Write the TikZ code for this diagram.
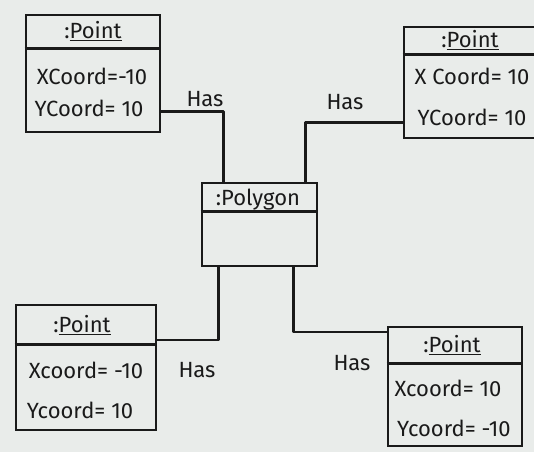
\documentclass[tikz,border=0pt]{standalone}
\usepackage{fontspec}
\setmainfont{Fira Sans}
\definecolor{paper}{HTML}{E9ECEA}
\definecolor{ink}{HTML}{1A1A1A}
\begin{document}
\begin{tikzpicture}[x=1pt,y=-1pt,
  obj/.style={draw=ink,line width=2.8pt,inner sep=0pt,anchor=center},
  lbl/.style={text=ink,font=\fontsize{22}{24}\selectfont,inner sep=0pt},
  link/.style={draw=ink,line width=2.8pt,line join=round}]
\fill[paper] (0,0) rectangle (534,452);
\useasboundingbox (0,0) rectangle (534,452);
\clip (0,0) rectangle (534,452);
% boxes
\node[obj,minimum width=134pt,minimum height=117pt] (tl) at (93,73.5) {};
\node[obj,minimum width=141pt,minimum height=111pt] (tr) at (474.5,82.5) {};
\node[obj,minimum width=115pt,minimum height=83pt] (poly) at (259.5,224.5) {};
\node[obj,minimum width=140pt,minimum height=125pt] (bl) at (86,367.5) {};
\node[obj,minimum width=134pt,minimum height=119pt] (br) at (455,386.5) {};
% separators
\draw[link] ([yshift=-35pt]tl.north west) -- ([yshift=-35pt]tl.north east);
\draw[link] ([yshift=-29pt]tr.north west) -- ([yshift=-29pt]tr.north east);
\draw[link] ([yshift=-30pt]poly.north west) -- ([yshift=-30pt]poly.north east);
\draw[link] ([yshift=-41pt]bl.north west) -- ([yshift=-41pt]bl.north east);
\draw[link] ([yshift=-38pt]br.north west) -- ([yshift=-38pt]br.north east);
% texts
\node[lbl] (tln) at (93,31) {:\underline{Point}};
\node[lbl] (tlx) at (92,76) {XCoord=-10};
\node[lbl] (tly) at (89,108) {YCoord= 10};
\node[lbl] (trn) at (470,40) {:\underline{Point}};
\node[lbl] (trx) at (472,76) {X Coord= 10};
\node[lbl] (try) at (472,117) {YCoord= 10};
\node[lbl] (pn) at (258,200) {:Polygon};
\node[lbl] (bln) at (82,325) {:\underline{Point}};
\node[lbl] (blx) at (86,370) {Xcoord= -10};
\node[lbl] (bly) at (80,410) {Ycoord= 10};
\node[lbl] (brn) at (452,345) {:\underline{Point}};
\node[lbl] (brx) at (448,388) {Xcoord= 10};
\node[lbl] (bry) at (454,428) {Ycoord= -10};
% connectors
\draw[link] ([yshift=-38pt]tl.east) -| ([xshift=23pt]poly.north west);
\draw[link] ([yshift=-40pt]tr.west) -| ([xshift=105pt]poly.north west);
\draw[link] ([xshift=18pt]poly.south west) |- ([yshift=27.5pt]bl.east);
\draw[link] ([xshift=93pt]poly.south west) |- ([yshift=54.5pt]br.west);
% association labels
\node[lbl] (h1) at (205,99) {Has};
\node[lbl] (h2) at (345,102) {Has};
\node[lbl] (h3) at (197,370) {Has};
\node[lbl] (h4) at (352,363) {Has};
\end{tikzpicture}
\end{document}
